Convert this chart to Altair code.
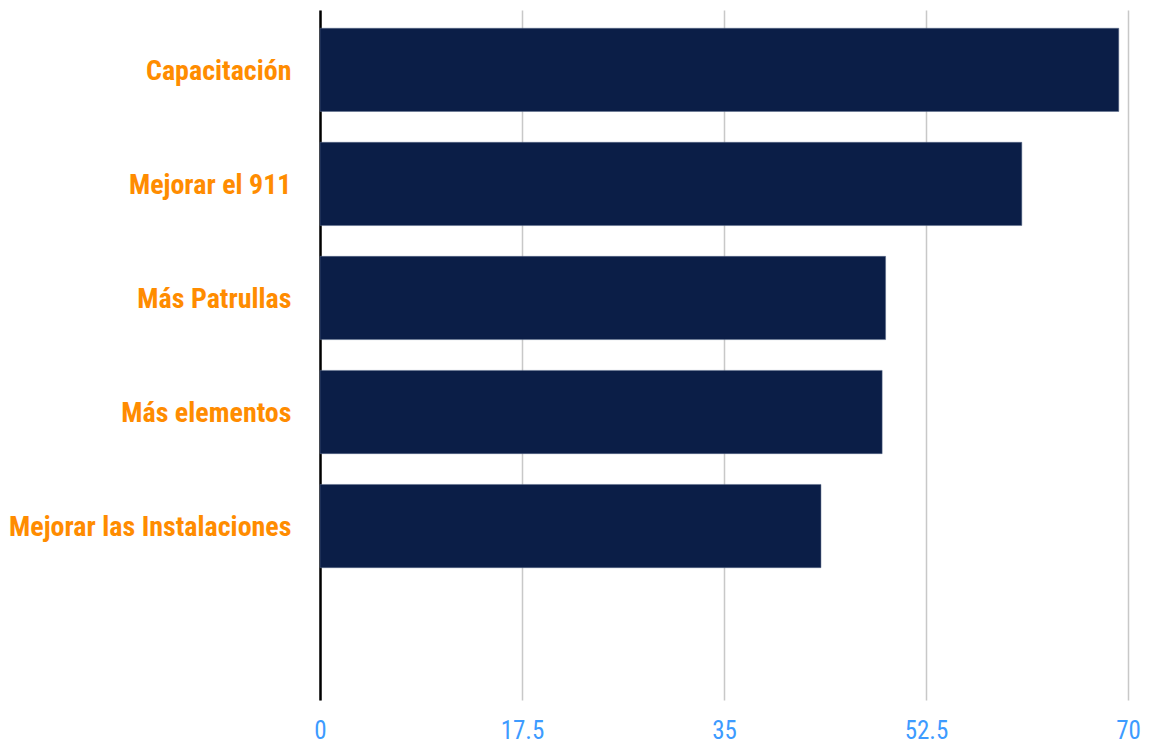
import altair as alt
import pandas as pd

categories = ["Capacitación", "Mejorar el 911", "Más Patrullas", "Más elementos", "Mejorar las Instalaciones"]
values = [69.2, 60.8, 49.0, 48.7, 43.4]
x_ticks = [0, 17.5, 35, 52.5, 70]

df = pd.DataFrame({"cat": categories, "val": values})
domain = categories + [" "]

font_narrow = "Roboto Condensed, DejaVu Sans Condensed, Liberation Sans Narrow, Roboto"

chart = alt.Chart(df).mark_bar(color="#0b1e47", stroke="#5a6a8a", strokeWidth=0.5).encode(
    y=alt.Y("cat:N", sort=domain,
            scale=alt.Scale(domain=domain, paddingInner=0.27, paddingOuter=0.16),
            axis=alt.Axis(title=None, labelColor="#ff8c00", labelFont=font_narrow,
                          labelFontWeight="bold", labelFontSize=28, labelPadding=29,
                          labelOffset=2,
                          ticks=False, domain=True, domainColor="#000000", domainWidth=2.5,
                          grid=False, labelLimit=400)),
    x=alt.X("val:Q", scale=alt.Scale(domain=[0, 70], nice=False),
            axis=alt.Axis(title=None, values=x_ticks, labelColor="#3d9bff", labelFontSize=25,
                          labelFont=font_narrow, labelPadding=18, format=".1~f",
                          ticks=False, domain=False, grid=True, gridColor="#c8c8c8",
                          gridWidth=1.5, labelFlush=False)),
).properties(
    width=808, height=690,
    autosize=alt.AutoSizeParams(type="none"),
    padding={"left": 312, "top": 2, "right": 14, "bottom": 46},
).configure_view(stroke=None)

chart.save("out.html", embed_options={"renderer": "svg", "actions": False})
